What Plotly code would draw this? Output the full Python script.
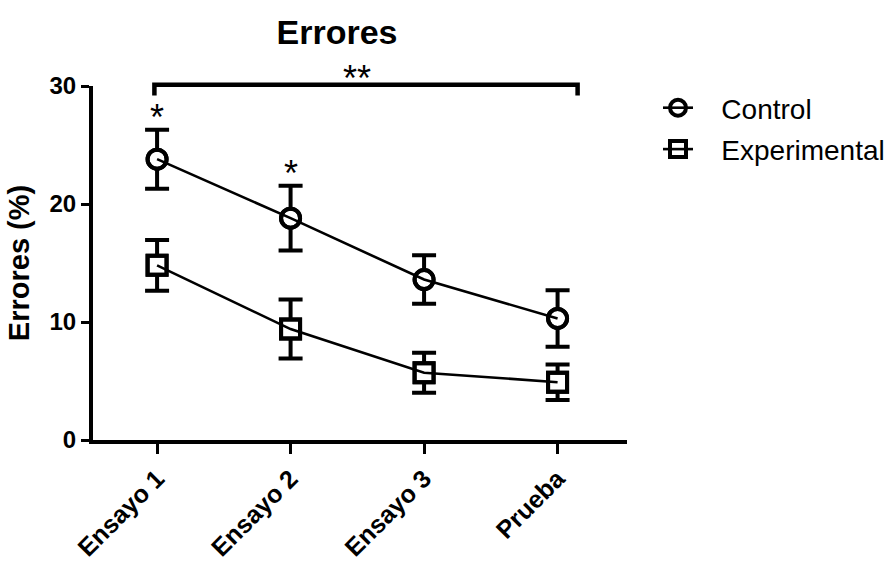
import plotly.graph_objects as go

categories = ["Ensayo 1", "Ensayo 2", "Ensayo 3", "Prueba"]
control_mean = [23.8, 18.8, 13.6, 10.3]
control_sem = [2.5, 2.75, 2.05, 2.4]
exp_mean = [14.8, 9.4, 5.7, 4.9]
exp_sem = [2.15, 2.5, 1.7, 1.5]
sig_single = ["Ensayo 1", "Ensayo 2"]   # '*' over Control
bracket_span = (-0.02, 3.15)             # '**' bracket, in category units

FONT = "Liberation Sans, Arial, sans-serif"
X_RANGE = [-0.48, 3.52]
Y_RANGE = [0, 30]
NB = "\u00a0\u00a0\u00a0"

fig = go.Figure()

def add_group(mean, sem, symbol):
    # white-filled markers with error bars (below)
    fig.add_trace(go.Scatter(
        x=categories, y=mean, mode="markers", showlegend=False,
        marker=dict(symbol=symbol, size=19, color="white",
                    line=dict(color="black", width=4)),
        error_y=dict(type="data", array=sem, visible=True,
                     color="black", thickness=4, width=12),
        hoverinfo="skip",
    ))

def add_line(name, mean, symbol):
    fig.add_trace(go.Scatter(
        x=categories, y=mean, mode="lines+markers", name=NB + name,
        legendgroup=name,
        line=dict(color="black", width=2.6),
        marker=dict(symbol=symbol + "-open", size=19, color="black",
                    line=dict(color="black", width=4)),
    ))

add_group(control_mean, control_sem, "circle")
add_group(exp_mean, exp_sem, "square")
add_line("Control", control_mean, "circle")
add_line("Experimental", exp_mean, "square")

# significance stars
for c in sig_single:
    i = categories.index(c)
    fig.add_annotation(x=c, y=control_mean[i] + control_sem[i] + 1.0,
                       xref="x", yref="y", text="*", showarrow=False,
                       font=dict(family=FONT, size=36, color="black"),
                       yanchor="middle")

# bracket for '**'
def xp(v):
    return (v - X_RANGE[0]) / (X_RANGE[1] - X_RANGE[0])

def yp(v):
    return (v - Y_RANGE[0]) / (Y_RANGE[1] - Y_RANGE[0])

x0, x1 = xp(bracket_span[0]), xp(bracket_span[1])
ytop, ybot = yp(30.1), yp(29.2)
fig.add_shape(type="path", xref="paper", yref="paper",
              path=f"M {x0} {ybot} L {x0} {ytop} L {x1} {ytop} L {x1} {ybot}",
              line=dict(color="black", width=4.5))
fig.add_annotation(x=xp(1.5), y=yp(30.6), xref="paper", yref="paper",
                   text="**", showarrow=False,
                   font=dict(family=FONT, size=36, color="black"),
                   yanchor="middle", xanchor="center")

fig.update_layout(
    width=894, height=561,
    margin=dict(l=93, r=267, t=86, b=121, autoexpand=False),
    paper_bgcolor="white", plot_bgcolor="white",
    font=dict(family=FONT, color="black"),
    title=dict(text="Errores", x=337 / 894, xanchor="center",
               xref="container", y=1 - 32 / 561, yref="container",
               yanchor="middle",
               font=dict(family=FONT, size=34, weight="bold", color="black")),
    showlegend=True,
    legend=dict(x=658 / 894, y=1 - 83 / 561, xref="container", yref="container",
                xanchor="left", yanchor="top",
                font=dict(family=FONT, size=28, color="black"),
                bgcolor="rgba(0,0,0,0)", traceorder="grouped",
                tracegroupgap=2, itemwidth=30),
)

fig.update_xaxes(
    type="category", range=X_RANGE, showgrid=False, zeroline=False,
    automargin=False,
    showline=True, linewidth=4, linecolor="black",
    ticks="outside", ticklen=10, tickwidth=3, tickcolor="black",
    tickangle=-45,
    tickfont=dict(family=FONT, size=25, weight="bold", color="black"),
)
fig.update_yaxes(
    range=Y_RANGE, tickvals=[0, 10, 20, 30], showgrid=False, zeroline=False,
    automargin=False,
    showline=True, linewidth=4, linecolor="black",
    ticks="outside", ticklen=8, tickwidth=3, tickcolor="black",
    tickfont=dict(family=FONT, size=24, weight="bold", color="black"),
    title=dict(text="Errores (%)", standoff=12,
               font=dict(family=FONT, size=29, weight="bold", color="black")),
)

fig.write_html("out.html")
